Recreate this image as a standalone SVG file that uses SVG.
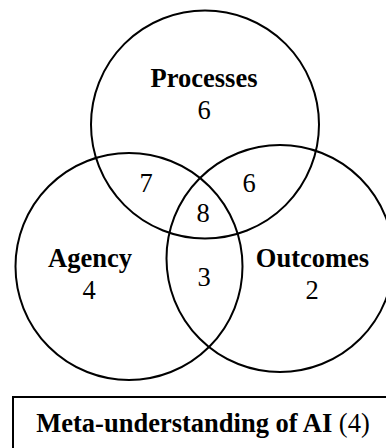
<svg xmlns="http://www.w3.org/2000/svg" width="386" height="448" viewBox="0 0 386 448">
<style>
.c{fill:none;stroke:#000;stroke-width:2}
.t{font-family:"Liberation Serif","Times New Roman",serif;font-size:26.5px;fill:#000;text-anchor:middle}
.b{font-weight:bold}
</style>
<rect width="386" height="448" fill="#fff"/>
<g id="processes">
<circle class="c" cx="205" cy="124.5" r="114"/>
<text class="t b" x="204" y="87">Processes</text>
<text class="t" x="204" y="119">6</text>
</g>
<g id="agency">
<circle class="c" cx="129" cy="266.5" r="113.5"/>
<text class="t b" x="90" y="267">Agency</text>
<text class="t" x="89" y="299">4</text>
</g>
<g id="outcomes">
<circle class="c" cx="280" cy="258.5" r="113.5"/>
<text class="t b" x="312.5" y="267">Outcomes</text>
<text class="t" x="312" y="299">2</text>
</g>
<g id="overlaps">
<text class="t" x="146" y="192">7</text>
<text class="t" x="249" y="192">6</text>
<text class="t" x="203" y="222">8</text>
<text class="t" x="204" y="286">3</text>
</g>
<g id="meta">
<rect x="13" y="397" width="400" height="100" fill="none" stroke="#000" stroke-width="2"/>
<text class="t" x="203" y="432"><tspan class="b">Meta-understanding of AI</tspan> (4)</text>
</g>
</svg>
